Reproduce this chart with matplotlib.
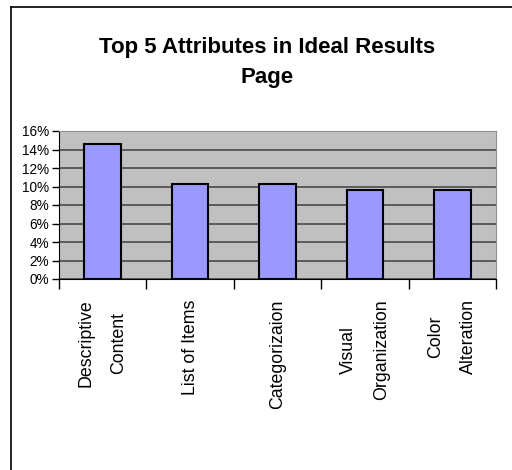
import matplotlib
matplotlib.use('Agg')
from matplotlib import pyplot as plt
from matplotlib.ticker import PercentFormatter
from matplotlib.lines import Line2D

categories = ['Descriptive\nContent', 'List of Items', 'Categorizaion',
              'Visual\nOrganization', 'Color\nAlteration']
values = [14.6, 10.3, 10.3, 9.65, 9.65]
yticks = [0, 2, 4, 6, 8, 10, 12, 14, 16]

plt.rcParams['font.family'] = ['Liberation Sans', 'DejaVu Sans']

W, H = 512, 470
fig = plt.figure(figsize=(W / 100, H / 100), dpi=100)
ax = fig.add_axes([59 / W, 1 - 279 / H, (496 - 59) / W, (279 - 131) / H])

ax.set_facecolor('#c0c0c0')
x = list(range(len(categories)))
ax.bar(x, values, width=0.42, color='#9999ff', edgecolor='black',
       linewidth=1.5, zorder=3)

ax.set_ylim(0, 16)
ax.set_xlim(-0.5, len(categories) - 0.5)
ax.set_yticks(yticks)
ax.yaxis.set_major_formatter(PercentFormatter(decimals=0))
ax.grid(axis='y', color='#4a4a4a', linewidth=1.2, zorder=1)
ax.tick_params(axis='y', labelsize=9.8, length=5, width=1, pad=2)

# category labels, ticks sit between categories
ax.set_xticks([i - 0.5 for i in range(len(categories) + 1)])
ax.set_xticklabels([])
ax.tick_params(axis='x', length=7, width=1, direction='out')
for i, lab in enumerate(categories):
    ax.text(i, -2.2, lab, rotation=90, ha='center', va='top',
            multialignment='center', fontsize=12.8, linespacing=2.2)

for side in ['top', 'right']:
    ax.spines[side].set_color('#909090')
ax.spines['left'].set_color('black')
ax.spines['bottom'].set_color('black')

fig.text(267 / W, 1 - 53 / H, 'Top 5 Attributes in Ideal Results',
         ha='center', va='baseline', fontsize=16, fontweight='bold')
fig.text(267 / W, 1 - 83 / H, 'Page',
         ha='center', va='baseline', fontsize=16, fontweight='bold')

# outer frame
fig.add_artist(Line2D([11 / W, 11 / W], [0, 1 - 7 / H], color='black',
                      linewidth=1.2, transform=fig.transFigure))
fig.add_artist(Line2D([11 / W, 1], [1 - 7 / H, 1 - 7 / H], color='black',
                      linewidth=1.2, transform=fig.transFigure))

fig.savefig('out.png', dpi=100)
